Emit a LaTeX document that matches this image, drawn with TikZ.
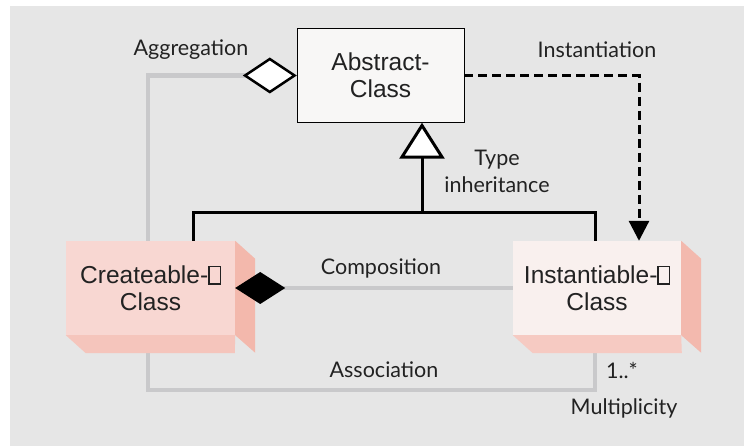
\documentclass[tikz,border=0pt]{standalone}
\usepackage{fontspec}
\setmainfont{Lato}
\newfontfamily\boxfont{Liberation Sans}
\usetikzlibrary{arrows.meta}
\definecolor{bgray}{HTML}{E6E6E6}
\definecolor{lgray}{HTML}{C9C9CB}
\definecolor{ink}{HTML}{222222}
\definecolor{absfront}{HTML}{F8F7F6}
\definecolor{crefront}{HTML}{F8D7D2}
\definecolor{creside}{HTML}{F3B8AC}
\definecolor{crebot}{HTML}{F5C5BC}
\definecolor{insfront}{HTML}{F9F0EE}
\definecolor{insside}{HTML}{F3B9AE}
\definecolor{insbot}{HTML}{F6CAC2}
\pgfdeclarelayer{back}
\pgfsetlayers{back,main}
\newcommand{\tofu}{{\setlength\fboxsep{0pt}\setlength\fboxrule{1.3pt}\fbox{\rule{0pt}{16pt}\hspace{10pt}}}}
\begin{document}
\begin{tikzpicture}[x=1pt,y=-1pt,
    lbl/.style={text=ink,font=\fontsize{21.5}{27}\selectfont,inner sep=0pt,align=center},
    cls/.style={text=ink,font=\boxfont\fontsize{24.5}{27}\selectfont,inner sep=0pt,align=center,
                minimum height=94pt},
    assoc/.style={draw=lgray,line width=4.5pt},
    inh/.style={draw=black,line width=3pt},
    inst/.style={draw=black,line width=3pt,dash pattern=on 9pt off 5pt}]
   \useasboundingbox (0,0) rectangle (744,446);
   \node[cls,draw=black,thin,fill=absfront,minimum width=167pt] (abs) at (380.5,75.5) {Abstract-\\Class};
   \node[cls,fill=crefront,minimum width=169pt] (cre) at (150.5,288) {Createable-\tofu\\Class};
   \node[cls,fill=insfront,minimum width=168pt] (ins) at (597,288) {Instantiable-\tofu\\Class};
   \foreach \n/\s/\b in {cre/creside/crebot, ins/insside/insbot} {
     \fill[\s] (\n.north east) -- ++(20,18) -- ++(0,94) -- (\n.south east) -- cycle;
     \fill[\b] (\n.south west) -- ++(20,18) -- ++(149,0) -- (\n.south east) -- cycle;
   }
   \begin{pgfonlayer}{back}
     \fill[bgray] (10,6) rectangle (744,446);
     \draw[assoc,-{Diamond[fill=white,color=black,line width=2.5pt,length=54pt,width=36pt]}]
       ([xshift=-2.5pt]cre.north) |- (abs.west);
     \draw[assoc] ([xshift=-2.5pt]cre.south) -- ++(0,55) -| ([xshift=-2pt]ins.south);
   \end{pgfonlayer}
   \draw[assoc,-{Diamond[fill=black,color=black,length=50pt,width=32pt]}] (ins.west) -- (cre.east);
   \coordinate (join) at (422,213);
   \draw[inh] ([xshift=42.5pt]cre.north) |- (join) -| ([xshift=-2pt]ins.north);
   \draw[inh,-{Triangle[fill=white,color=black,line width=3pt,length=36pt,width=45pt]}]
     (join) -- ([xshift=41.5pt]abs.south);
   \draw[inst,-{Triangle[length=20pt,width=20pt]}] (abs.east) -| ([xshift=42pt]ins.north);
   \node[lbl] (aggr) at (191,50) {Aggregation};
   \node[lbl] (instn) at (597,50) {Instantiation};
   \node[lbl] (type) at (497,171) {Type\\inheritance};
   \node[lbl] (comp) at (381,268) {Composition};
   \node[lbl] (asso) at (384,370) {Association};
   \node[lbl] (mult) at (622,370) {1..*};
   \node[lbl] (multn) at (624,408) {Multiplicity};
\end{tikzpicture}
\end{document}
